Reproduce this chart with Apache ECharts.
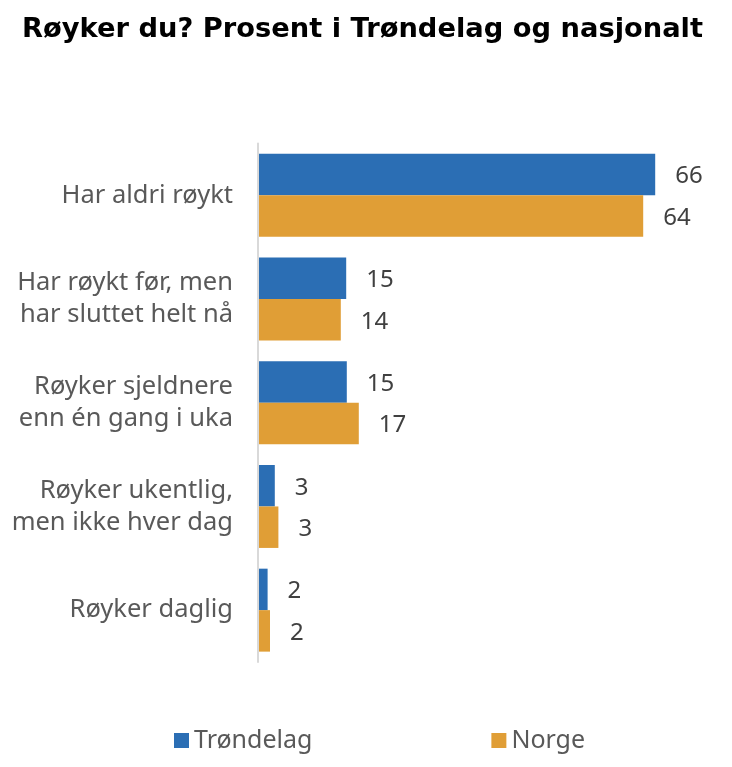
<!DOCTYPE html>
<html>
<head>
<meta charset="utf-8">
<script src="https://cdn.jsdelivr.net/npm/echarts@6/dist/echarts.min.js"></script>
<style>html,body{margin:0;padding:0;background:#fff}#c{width:732px;height:767px}</style>
</head>
<body>
<div id="c"></div>
<script>
const titleText = 'Røyker du? Prosent i Trøndelag og nasjonalt';
const categories = ['Har aldri røykt', 'Har røykt før, men\nhar sluttet helt nå', 'Røyker sjeldnere\nenn én gang i uka', 'Røyker ukentlig,\nmen ikke hver dag', 'Røyker daglig'];
const seriesNames = ['Trøndelag', 'Norge'];
const trondelag = [66.2, 14.7, 14.8, 2.8, 1.6];
const norge = [64.2, 13.8, 16.8, 3.4, 2.0];

const font = '"Noto Sans", sans-serif';
const chart = echarts.init(document.getElementById('c'));
const labelCfg = {
  show: true, position: 'right', distance: 20, offset: [0, 2],
  color: '#404040', fontSize: 24, fontFamily: font,
  formatter: p => Math.round(p.value)
};
chart.setOption({
  animation: false,
  title: {
    text: titleText, left: 22, top: 16, padding: 0,
    textStyle: {fontFamily: '"DejaVu Sans", sans-serif', fontWeight: 'bold', fontSize: 27.3, color: '#000'}
  },
  legend: {
    left: 174, top: 728, padding: 0, itemWidth: 15, itemHeight: 15, itemGap: 179, icon: 'rect',
    textStyle: {fontFamily: font, fontSize: 25, color: '#595959'},
    data: seriesNames
  },
  grid: {left: 258, top: 143.5, height: 518.5, width: 420, containLabel: false},
  xAxis: {type: 'value', min: 0, max: 70, show: false},
  yAxis: {
    type: 'category', data: categories, inverse: true, z: 5,
    axisLine: {show: true, lineStyle: {color: '#d9d9d9', width: 2}},
    axisTick: {show: false},
    axisLabel: {fontFamily: font, fontSize: 25.5, lineHeight: 32, color: '#595959', margin: 25, align: 'right'}
  },
  series: [
    {name: seriesNames[0], type: 'bar', data: trondelag, barGap: '0%', barCategoryGap: '20%', itemStyle: {color: '#2b6eb4'}, label: labelCfg},
    {name: seriesNames[1], type: 'bar', data: norge, barGap: '0%', barCategoryGap: '20%', itemStyle: {color: '#e09e36'}, label: labelCfg}
  ]
});
</script>
</body>
</html>
